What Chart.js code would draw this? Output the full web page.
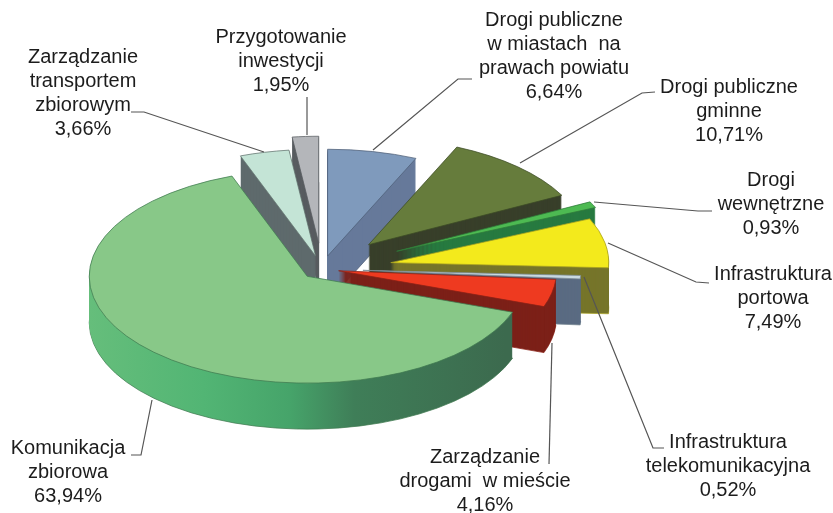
<!DOCTYPE html>
<html lang="pl">
<head>
    <meta charset="UTF-8">
    <title>Struktura wydatków</title>
    <script src="https://cdn.jsdelivr.net/npm/chart.js"></script>
    <style>
        html, body { margin: 0; padding: 0; background: #fff; }
        canvas { display: block; }
    </style>
</head>
<body>
    <canvas id="pie3d" width="833" height="513"></canvas>

    <script>
        // Data, clockwise from the top
        const categories = [
            ['Drogi publiczne', 'w miastach  na', 'prawach powiatu'],
            ['Drogi publiczne', 'gminne'],
            ['Drogi', 'wewnętrzne'],
            ['Infrastruktura', 'portowa'],
            ['Infrastruktura', 'telekomunikacyjna'],
            ['Zarządzanie', 'drogami  w mieście'],
            ['Komunikacja', 'zbiorowa'],
            ['Zarządzanie', 'transportem', 'zbiorowym'],
            ['Przygotowanie', 'inwestycji']
        ];
        const values = [6.64, 10.71, 0.93, 7.49, 0.52, 4.16, 63.94, 3.66, 1.95];

        // Styles per slice
        const topColors = ['#7f9abc', '#667c3c', '#4dba52', '#f3ea1c', '#c9d9e0', '#ee3a20', '#88c888', '#c4e4d6', '#b4b6ba'];
        const edgeColors = ['#4d5d75', '#3c4a24', '#2e7a38', '#a8a020', '#7a8a95', '#8a2015', '#3f7a50', '#60706c', '#585c60'];
        const wallColors = ['#66799a', '#383f2a', '#277a40', '#76752a', '#5a6b82', '#7c2018', null, '#5e6a6c', '#585c60'];
        const greenWallStops = [[0, '#68bf7c'], [0.3, '#52b574'], [0.5, '#46a46a'], [0.65, '#3f7e58'], [1, '#3c6a4e']];
        const explode = [27, 68, 83, 70, 41, 17, 21, 27, 53];
        const drawOrder = [8, 7, 0, 1, 2, 3, 4, 5, 6];
        const squash = 0.49;
        const depth = 46;

        // Label centres and leader lines, in page pixels
        const labelPos = [[554, 20], [729, 87], [771, 180], [773, 274], [728, 442], [485, 457], [68, 448], [83, 57], [281, 37]];
        const lineGap = 24.3;
        const leaders = [
            [[373, 150], [458, 79], [472, 79]],
            [[520, 163], [642, 93], [655, 92]],
            [[594, 202], [698, 211], [712, 211]],
            [[608, 243], [696, 282], [709, 283]],
            [[584, 277], [653, 448], [664, 448]],
            [[552, 343], [549, 464]],
            [[152, 400], [141, 455], [131, 455]],
            [[264, 152], [144, 112], [131, 112]],
            [[307, 135], [307, 97]]
        ];

        const pie3d = {
            id: 'pie3d',
            beforeDatasetsDraw(chart) {
                const ctx = chart.ctx;
                const arcs = chart.getDatasetMeta(0).data;
                const cx = arcs[0].x, cy = arcs[0].y;

                const greenWall = ctx.createLinearGradient(89, 0, 520, 0);
                greenWallStops.forEach(s => greenWall.addColorStop(s[0], s[1]));

                const drawSlice = (i, shift, fill, edge) => {
                    const arc = arcs[i];
                    const saved = arc.options;
                    const mid = (arc.startAngle + arc.endAngle) / 2;
                    arc.options = Object.assign({}, saved, {
                        backgroundColor: fill,
                        borderColor: edge || fill,
                        borderWidth: edge ? 1 : 0
                    });
                    ctx.save();
                    ctx.translate(cx, cy + shift);
                    ctx.scale(1, squash);
                    ctx.translate(-cx, -cy);
                    ctx.translate(Math.cos(mid) * explode[i], Math.sin(mid) * explode[i]);
                    arc.draw(ctx);
                    ctx.restore();
                    arc.options = saved;
                };

                // back slices first, each one a stack of layers with its top face last
                drawOrder.forEach(i => {
                    const wall = wallColors[i] || greenWall;
                    for (let d = depth; d >= 1; d--) {
                        drawSlice(i, d, wall, d === depth ? edgeColors[i] : null);
                    }
                    drawSlice(i, 0, topColors[i], edgeColors[i]);
                });
                return false;
            },
            afterDraw(chart) {
                const ctx = chart.ctx;
                ctx.save();
                ctx.strokeStyle = '#555';
                ctx.lineWidth = 1.2;
                leaders.forEach(pts => {
                    ctx.beginPath();
                    pts.forEach((p, n) => n ? ctx.lineTo(p[0], p[1]) : ctx.moveTo(p[0], p[1]));
                    ctx.stroke();
                });
                ctx.fillStyle = '#1c1c1c';
                ctx.font = '20px "Liberation Sans"';
                ctx.textAlign = 'center';
                ctx.textBaseline = 'middle';
                categories.forEach((lines, i) => {
                    const pct = values[i].toFixed(2).replace('.', ',') + '%';
                    lines.concat(pct).forEach((t, n) => {
                        ctx.fillText(t, labelPos[i][0], labelPos[i][1] + n * lineGap);
                    });
                });
                ctx.restore();
            }
        };

        new Chart(document.getElementById('pie3d'), {
            type: 'pie',
            data: {
                labels: categories.map(c => c.join(' ')),
                datasets: [{ data: values, backgroundColor: topColors, borderWidth: 0 }]
            },
            options: {
                responsive: false,
                animation: false,
                radius: 218,
                layout: { padding: { left: 0, right: 189, top: 25, bottom: 0 } },
                plugins: { legend: { display: false }, tooltip: { enabled: false } }
            },
            plugins: [pie3d]
        });
    </script>
</body>
</html>
